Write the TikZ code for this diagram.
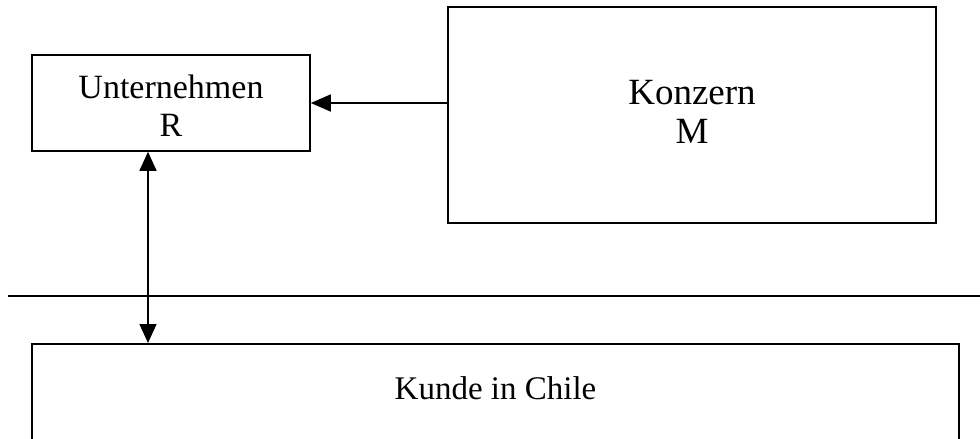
\documentclass[tikz,border=0pt]{standalone}
\usepackage{fontspec}
\setmainfont{Liberation Serif}
\usetikzlibrary{arrows.meta}

\tikzset{
  box/.style={draw, line width=1.6pt, inner sep=0pt, rectangle},
  lbl/.style={align=center, inner sep=0pt},
  conn/.style={line width=1.6pt},
  tip/.style={-{Triangle[length=20pt, width=17pt]}},
  tips/.style={{Triangle[length=19pt, width=17pt]}-{Triangle[length=19pt, width=17pt]}}
}

\begin{document}
\begin{tikzpicture}[x=1pt, y=-1pt]
  % page frame; the customer box runs past the lower edge
  \clip (0,0) rectangle (980,439);
  \fill[white] (0,0) rectangle (980,439);

  % boxes
  \node[box, minimum width=278pt, minimum height=96pt] (u) at (171,103) {};
  \node[box, minimum width=488pt, minimum height=216pt] (k) at (692,115) {};
  \node[box, minimum width=927pt, minimum height=200pt, anchor=north] (c) at (495.5,343) {};

  % box texts
  \node[lbl, font=\fontsize{34}{38}\selectfont] (ut) at ([yshift=-2.4pt]u.center) {Unternehmen\\R};
  \node[lbl, font=\fontsize{37}{39}\selectfont] (kt) at ([yshift=2.7pt]k.center) {Konzern\\M};
  \node[lbl, font=\fontsize{33}{38}\selectfont] (ct) at ([yshift=-45.7pt]c.north) {Kunde in Chile};

  % border line
  \coordinate (bl) at (8,296);
  \coordinate (br) at (990,296);
  \draw[conn] (bl) -- (br);

  % connectors
  \draw[conn, tip] (k.west |- u.east) -- (u.east);
  \draw[conn, tips] ([xshift=-23pt]u.south) -- ([xshift=-23pt]u.south |- c.north);
\end{tikzpicture}
\end{document}
